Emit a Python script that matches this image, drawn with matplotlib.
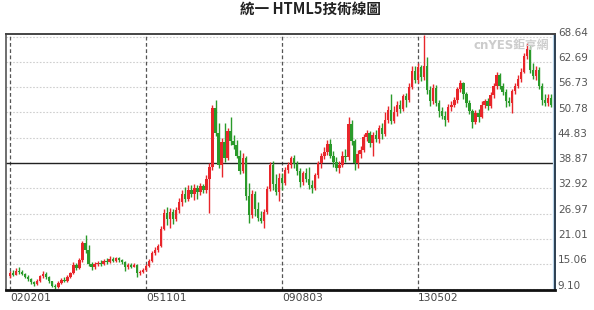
import matplotlib
matplotlib.use("Agg")
import matplotlib.pyplot as plt
import matplotlib.transforms as mtransforms
import numpy as np

# monthly candles, 2002-02 .. 2017-01
opens = [
    12.2, 13.0, 12.6, 13.5, 13.2, 12.7, 12.1, 11.5, 10.9, 10.5,
    11.2, 12.3, 12.8, 12.0, 11.0, 10.0, 9.7, 10.6, 11.4, 11.1,
    12.0, 12.9, 14.8, 14.2, 16.0, 20.0, 18.5, 15.0, 14.3, 15.0,
    15.4, 15.0, 15.8, 15.6, 16.3, 15.9, 16.4, 16.0, 15.5, 14.5,
    14.9, 14.5, 14.9, 13.0, 13.3, 13.8, 14.6, 15.8, 17.6, 18.3,
    19.3, 23.4, 27.0, 25.6, 27.3, 25.8, 27.8, 29.8, 31.6, 30.4,
    32.6, 31.6, 33.0, 32.0, 33.4, 32.6, 35.0, 38.0, 51.8, 46.0,
    38.4, 43.8, 40.0, 46.4, 44.0, 43.0, 40.6, 37.0, 40.0, 31.0,
    26.6, 31.6, 28.0, 26.0, 25.2, 27.4, 32.8, 38.4, 34.0, 32.0,
    35.4, 34.2, 37.2, 38.4, 40.0, 38.6, 37.0, 34.4, 36.4, 35.2,
    33.6, 33.0, 36.0, 38.8, 40.6, 41.4, 43.4, 40.6, 39.0, 37.6,
    38.4, 40.6, 40.2, 48.0, 44.0, 38.8, 41.0, 42.0, 45.0, 46.0,
    43.6, 45.4, 44.6, 47.2, 45.8, 49.0, 51.4, 48.8, 50.8, 52.6,
    51.6, 54.6, 53.6, 56.8, 60.6, 58.4, 61.4, 59.0, 61.6, 56.0,
    53.4, 56.6, 53.0, 51.0, 50.0, 49.0, 52.0, 52.6, 53.6, 56.2,
    57.6, 55.0, 53.0, 51.0, 48.6, 50.6, 49.8, 52.6, 53.4, 52.2,
    54.8, 57.0, 59.6, 57.0, 55.6, 53.4, 53.0, 55.8, 57.0, 58.6,
    60.4, 64.0, 65.8, 60.8, 59.4, 60.8, 57.0, 53.8, 53.0, 54.2,
]
highs = [
    13.4, 13.8, 14.2, 14.4, 13.7, 13.0, 12.4, 11.8, 11.2, 11.6,
    12.6, 13.4, 13.3, 12.3, 11.2, 10.5, 11.0, 11.8, 12.0, 12.4,
    13.2, 15.6, 15.4, 16.4, 20.6, 21.9, 19.6, 15.6, 15.5, 15.8,
    16.0, 16.3, 16.6, 16.9, 16.8, 16.8, 16.7, 16.3, 15.8, 15.3,
    15.3, 15.4, 15.1, 13.8, 14.2, 15.0, 16.2, 18.2, 19.0, 19.8,
    24.0, 28.0, 28.5, 28.2, 28.0, 28.6, 30.6, 32.4, 33.2, 33.6,
    33.8, 33.9, 33.6, 34.2, 34.0, 36.0, 38.8, 52.6, 53.8, 48.4,
    44.8, 48.3, 47.2, 49.6, 45.4, 44.4, 42.0, 41.2, 40.6, 34.2,
    32.6, 32.2, 29.6, 27.6, 28.0, 33.4, 39.2, 39.4, 36.2, 36.6,
    36.4, 38.0, 39.2, 40.6, 40.8, 39.4, 37.6, 37.0, 37.6, 38.0,
    34.8, 36.6, 39.4, 41.2, 42.6, 44.4, 44.6, 41.6, 40.2, 39.4,
    41.6, 42.2, 49.8, 49.0, 44.6, 42.0, 42.8, 45.6, 46.6, 46.4,
    46.2, 46.6, 47.8, 48.4, 50.8, 52.2, 55.2, 52.4, 53.4, 53.6,
    55.2, 55.4, 57.6, 61.6, 61.8, 62.4, 62.0, 69.0, 63.8, 57.0,
    57.4, 57.2, 53.8, 52.0, 51.0, 52.8, 53.4, 54.4, 56.8, 58.4,
    58.0, 55.6, 53.6, 51.6, 51.4, 51.6, 53.4, 54.0, 54.2, 55.6,
    57.8, 60.4, 60.0, 57.8, 56.2, 54.4, 56.4, 57.8, 59.6, 61.2,
    64.8, 67.0, 66.4, 62.4, 61.6, 61.4, 57.6, 55.0, 55.2, 55.0,
]
lows = [
    11.8, 12.3, 12.4, 12.8, 12.5, 11.8, 11.2, 10.5, 10.0, 10.2,
    10.9, 11.8, 11.6, 10.6, 9.6, 9.3, 9.5, 10.3, 10.8, 10.9,
    11.7, 12.7, 13.8, 13.9, 15.6, 17.8, 14.6, 13.6, 13.9, 14.6,
    14.6, 14.8, 15.2, 15.4, 15.5, 15.6, 15.5, 15.0, 13.4, 14.0,
    14.1, 14.3, 12.0, 12.6, 12.9, 13.5, 14.3, 15.5, 17.2, 17.9,
    19.0, 23.0, 24.3, 23.6, 24.6, 25.3, 27.2, 28.8, 29.6, 30.0,
    30.8, 30.2, 30.4, 31.4, 31.8, 31.8, 27.2, 37.2, 45.2, 37.6,
    35.6, 39.0, 39.6, 43.2, 42.2, 40.0, 36.3, 36.6, 30.2, 24.7,
    26.0, 26.4, 25.3, 24.8, 23.6, 26.8, 32.2, 32.4, 31.4, 30.0,
    32.6, 33.8, 36.6, 37.6, 37.8, 36.0, 33.2, 33.6, 34.4, 32.8,
    31.8, 32.4, 35.4, 37.8, 39.8, 40.8, 40.0, 38.0, 37.0, 36.6,
    38.0, 39.2, 39.6, 43.0, 37.2, 37.6, 40.0, 41.4, 44.0, 42.6,
    40.4, 43.8, 43.6, 44.6, 45.2, 48.2, 48.0, 48.2, 50.0, 50.6,
    51.0, 52.0, 53.2, 56.2, 57.6, 57.8, 58.2, 58.4, 55.0, 52.4,
    52.8, 52.2, 49.6, 49.2, 47.6, 48.6, 51.2, 52.0, 53.0, 55.6,
    54.0, 52.0, 50.4, 47.1, 48.0, 48.6, 49.4, 51.8, 51.4, 51.8,
    54.2, 56.4, 56.2, 54.8, 52.1, 52.4, 50.6, 55.2, 56.6, 58.0,
    60.0, 63.4, 60.0, 58.6, 58.4, 56.4, 52.5, 52.2, 52.4, 52.0,
]
closes = [
    13.0, 12.6, 13.5, 13.2, 12.7, 12.1, 11.5, 10.9, 10.5, 11.2,
    12.3, 12.8, 12.0, 11.0, 10.0, 9.7, 10.6, 11.4, 11.1, 12.0,
    12.9, 14.8, 14.2, 16.0, 20.0, 18.5, 15.0, 14.3, 15.0, 15.4,
    15.0, 15.8, 15.6, 16.3, 15.9, 16.4, 16.0, 15.5, 14.5, 14.9,
    14.5, 14.9, 13.0, 13.3, 13.8, 14.6, 15.8, 17.6, 18.3, 19.3,
    23.4, 27.0, 25.6, 27.3, 25.8, 27.8, 29.8, 31.6, 30.4, 32.6,
    31.6, 33.0, 32.0, 33.4, 32.6, 35.0, 38.0, 51.8, 46.0, 38.4,
    43.8, 40.0, 46.4, 44.0, 43.0, 40.6, 37.0, 40.0, 31.0, 26.6,
    31.6, 28.0, 26.0, 25.2, 27.4, 32.8, 38.4, 34.0, 32.0, 35.4,
    34.2, 37.2, 38.4, 40.0, 38.6, 37.0, 34.4, 36.4, 35.2, 33.6,
    33.0, 36.0, 38.8, 40.6, 41.4, 43.4, 40.6, 39.0, 37.6, 38.4,
    40.6, 40.2, 48.0, 44.0, 38.8, 41.0, 42.0, 45.0, 46.0, 43.6,
    45.4, 44.6, 47.2, 45.8, 49.0, 51.4, 48.8, 50.8, 52.6, 51.6,
    54.6, 53.6, 56.8, 60.6, 58.4, 61.4, 59.0, 61.6, 56.0, 53.4,
    56.6, 53.0, 51.0, 50.0, 49.0, 52.0, 52.6, 53.6, 56.2, 57.6,
    55.0, 53.0, 51.0, 48.6, 50.6, 49.8, 52.6, 53.4, 52.2, 54.8,
    57.0, 59.6, 57.0, 55.6, 53.4, 53.0, 55.8, 57.0, 58.6, 60.4,
    64.0, 65.8, 60.8, 59.4, 60.8, 57.0, 53.8, 53.0, 54.2, 52.6,
]

date_labels = ['020201', '051101', '090803', '130502']
date_idx = [0, 45, 90, 135]
price_ticks = [9.10, 15.06, 21.01, 26.97, 32.92, 38.87, 44.83, 50.78, 56.73, 62.69, 68.64]
mid_line = 38.87

o = np.array(opens)
h = np.array(highs)
l = np.array(lows)
c = np.array(closes)
x = np.arange(len(o))
up = c >= o
RED = '#e8262b'
GREEN = '#2a9a2a'
cols = np.where(up, RED, GREEN)

fig = plt.figure(figsize=(5.94, 3.10), dpi=100)
ax = fig.add_axes([6 / 594, 1 - 290 / 310, 549 / 594, 256 / 310])

# grid
for p in price_ticks:
    ax.axhline(p, color='#cfcfcf', lw=0.8, ls=(0, (1.5, 1.5)), zorder=0)
for i in date_idx:
    ax.axvline(i, color='#555555', lw=0.9, ls=(0, (3, 2)), zorder=1)
ax.axhline(mid_line, color='#222222', lw=1.0, zorder=1)

# candles
ax.vlines(x, l, h, colors=cols, lw=1.0, zorder=2)
body = np.maximum(np.abs(c - o), 0.15)
ax.bar(x, body, bottom=np.minimum(o, c), width=0.8, color=cols, lw=0, zorder=3)

ax.set_xlim(-1.3, 180.3)
ax.set_ylim(8.98, 69.23)

ax.set_yticks(price_ticks)
ax.set_yticklabels(['%.2f' % p for p in price_ticks])
ax.yaxis.tick_right()
ax.tick_params(axis='y', length=0, pad=2, labelsize=7.5, labelcolor='#555555')
shift = mtransforms.ScaledTranslation(0, 3.5 / 72, fig.dpi_scale_trans)
for lab in ax.get_yticklabels():
    lab.set_transform(lab.get_transform() + shift)

ax.set_xticks(date_idx)
ax.set_xticklabels(date_labels)
ax.tick_params(axis='x', length=0, pad=2, labelsize=7.7, labelcolor='#444444')
for lab in ax.get_xticklabels():
    lab.set_horizontalalignment('left')

ax.spines['bottom'].set_color('#111111')
ax.spines['bottom'].set_linewidth(2.0)
ax.spines['left'].set_color('#555555')
ax.spines['left'].set_linewidth(1.2)
ax.spines['top'].set_color('#444444')
ax.spines['top'].set_linewidth(1.4)
ax.spines['right'].set_color('#2c3e50')
ax.spines['right'].set_linewidth(1.4)
ax.axvline(180.0, color='#b8d4ea', lw=1.6, zorder=1)

fig.text(311 / 594, 1 - 9 / 310, '統一 HTML5技術線圖', ha='center', va='center',
         fontsize=10.5, fontweight='bold', color='#222222',
         family=['Noto Sans CJK TC', 'DejaVu Sans'])
fig.text(549 / 594, 1 - 45 / 310, 'cnYES鉅亨網', ha='right', va='center',
         fontsize=8.5, fontweight='bold', color='#cccccc',
         family=['DejaVu Sans', 'Noto Sans CJK TC'])

fig.savefig('out.png', dpi=100)
